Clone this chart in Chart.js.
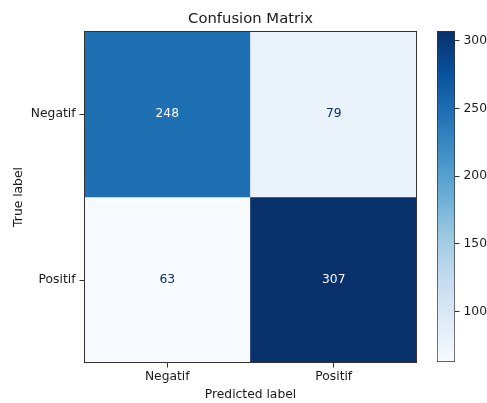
<!DOCTYPE html>
<html>
<head>
<meta charset="utf-8">
<script src="https://cdn.jsdelivr.net/npm/chart.js@4.4.1/dist/chart.umd.min.js"></script>
<style>
  html, body { margin: 0; padding: 0; background: #ffffff; }
  #wrap { position: relative; width: 487px; height: 403px; }
  #wrap canvas { position: absolute; left: 0; top: 0; }
</style>
</head>
<body>
<div id="wrap">
  <canvas id="cm" width="487" height="403"></canvas>
  <canvas id="cb" width="487" height="403"></canvas>
</div>
<script>
// Confusion matrix counts: rows = true label, columns = predicted label
const trueLabels = ['Negatif', 'Positif'];
const predLabels = ['Negatif', 'Positif'];
const countsTrueNegatif = [248, 79];
const countsTruePositif = [63, 307];
const colorbarTicks = [100, 150, 200, 250, 300];

const rows = [countsTrueNegatif, countsTruePositif];
const allCounts = rows.flat();
const vmin = Math.min(...allCounts);
const vmax = Math.max(...allCounts);

// "Blues" sequential palette, linearly interpolated
const BLUES = ['#f7fbff', '#deebf7', '#c6dbef', '#9ecae1', '#6baed6',
               '#4292c6', '#2171b5', '#08519c', '#08306b'];
function hexToRgb(h) {
  return [parseInt(h.slice(1, 3), 16), parseInt(h.slice(3, 5), 16), parseInt(h.slice(5, 7), 16)];
}
function blues(t) {
  t = Math.max(0, Math.min(1, t));
  const x = t * (BLUES.length - 1);
  const i = Math.min(Math.floor(x), BLUES.length - 2);
  const f = x - i;
  const a = hexToRgb(BLUES[i]), b = hexToRgb(BLUES[i + 1]);
  const c = a.map((v, k) => Math.round(v + (b[k] - v) * f));
  return `rgb(${c[0]},${c[1]},${c[2]})`;
}
const norm = v => (v - vmin) / (vmax - vmin);

const FONT = 'DejaVu Sans';
Chart.defaults.font.family = FONT;
const TEXT = '#1a1a1a';
const EDGE = '#333333';

// Each true-label row becomes one dataset of floating bars spanning its row band
const nRows = trueLabels.length;
const datasets = rows.map((counts, r) => ({
  label: trueLabels[r],
  data: counts.map(() => [nRows - 1 - r, nRows - r]),
  counts: counts,
  backgroundColor: counts.map(v => blues(norm(v))),
  borderWidth: 0,
  barPercentage: 1,
  categoryPercentage: 1,
  grouped: false
}));

const cellText = {
  id: 'cellText',
  afterDatasetsDraw(chart) {
    const ctx = chart.ctx;
    ctx.save();
    ctx.font = `12.3px "${FONT}"`;
    ctx.textAlign = 'center';
    ctx.textBaseline = 'middle';
    chart.data.datasets.forEach((ds, di) => {
      chart.getDatasetMeta(di).data.forEach((bar, i) => {
        const v = ds.counts[i];
        const p = bar.getCenterPoint();
        ctx.fillStyle = v >= (vmin + vmax) / 2 ? BLUES[0] : BLUES[BLUES.length - 1];
        ctx.fillText(String(v), p.x, p.y);
      });
    });
    ctx.restore();
  }
};

const frame = {
  id: 'frame',
  afterDraw(chart) {
    const a = chart.chartArea;
    const ctx = chart.ctx;
    ctx.save();
    ctx.strokeStyle = EDGE;
    ctx.lineWidth = 1;
    ctx.strokeRect(a.left + 0.5, a.top + 0.5, a.right - a.left - 1, a.bottom - a.top - 1);
    ctx.restore();
  }
};

new Chart(document.getElementById('cm'), {
  type: 'bar',
  data: { labels: predLabels, datasets: datasets },
  plugins: [cellText, frame],
  options: {
    responsive: false,
    animation: false,
    layout: { padding: { left: 0, right: 70, top: 0, bottom: 0 } },
    plugins: {
      legend: { display: false },
      tooltip: { enabled: false },
      title: { display: false }
    },
    scales: {
      // top axis carries only the heading, centred over the matrix
      top: {
        type: 'category',
        position: 'top',
        offset: true,
        afterFit: s => { s.height = 31; },
        grid: { display: false },
        border: { display: false },
        ticks: { display: false },
        title: {
          display: true,
          text: 'Confusion Matrix',
          color: TEXT,
          font: { size: 14.8, weight: 'normal' },
          padding: { top: 10.2, bottom: 0 }
        }
      },
      x: {
        type: 'category',
        offset: true,
        afterFit: s => { s.height = 40; },
        grid: { offset: false, drawOnChartArea: false, drawTicks: true, tickLength: 4.5, color: EDGE },
        border: { display: false },
        ticks: { color: TEXT, font: { size: 12.3 }, padding: 1.5, maxRotation: 0 },
        title: { display: true, text: 'Predicted label', color: TEXT, font: { size: 12.3 }, padding: { top: 0, bottom: 0.8 } }
      },
      y: {
        type: 'linear',
        min: 0,
        max: nRows,
        afterBuildTicks: s => { s.ticks = trueLabels.map((_, r) => ({ value: r + 0.5 })); },
        afterFit: s => { s.width = 84; },
        grid: { drawOnChartArea: false, drawTicks: true, tickLength: 4.5, color: EDGE },
        border: { display: false },
        ticks: {
          color: TEXT,
          font: { size: 12.3 },
          padding: 4,
          callback: v => trueLabels[nRows - 1 - Math.floor(v)]
        },
        title: { display: true, text: 'True label', color: TEXT, font: { size: 12.3 }, padding: { top: 11.6, bottom: 0 } }
      }
    }
  }
});

// Colour bar: a single floating bar from vmin to vmax filled with the palette
new Chart(document.getElementById('cb'), {
  type: 'bar',
  data: {
    labels: [''],
    datasets: [{
      data: [[vmin, vmax]],
      backgroundColor: c => {
        const chart = c.chart;
        if (!chart.chartArea) return BLUES[4];
        const y = chart.scales.y;
        const g = chart.ctx.createLinearGradient(0, y.getPixelForValue(vmin), 0, y.getPixelForValue(vmax));
        BLUES.forEach((col, i) => g.addColorStop(i / (BLUES.length - 1), col));
        return g;
      },
      borderColor: EDGE,
      borderWidth: 1,
      borderSkipped: false,
      barPercentage: 1,
      categoryPercentage: 1
    }]
  },
  options: {
    responsive: false,
    animation: false,
    layout: { padding: { left: 437, right: 0, top: 31, bottom: 41 } },
    plugins: { legend: { display: false }, tooltip: { enabled: false }, title: { display: false } },
    scales: {
      x: { display: false },
      y: {
        position: 'right',
        min: vmin,
        max: vmax,
        afterBuildTicks: s => { s.ticks = colorbarTicks.map(v => ({ value: v })); },
        afterFit: s => { s.width = 32; },
        grid: { drawOnChartArea: false, drawTicks: true, tickLength: 4.5, color: EDGE },
        border: { display: false },
        ticks: { color: TEXT, font: { size: 12.3 }, padding: 4 }
      }
    }
  }
});
</script>
</body>
</html>
